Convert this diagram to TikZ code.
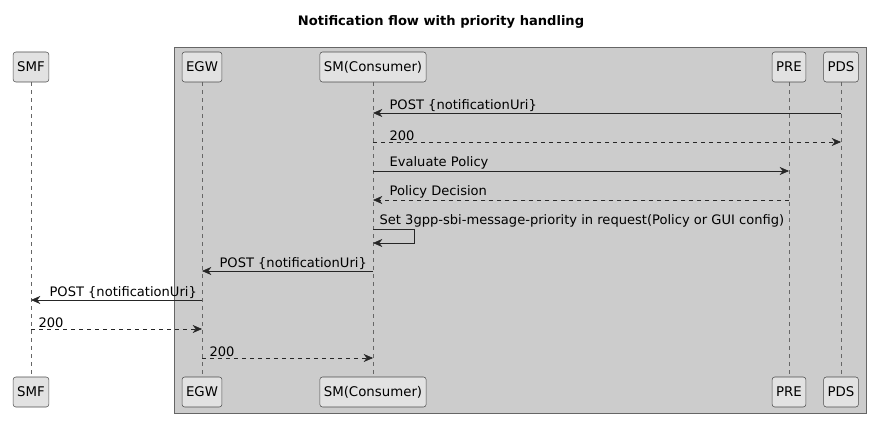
\documentclass[tikz,border=0pt]{standalone}
\usepackage{fontspec}
\setmainfont{DejaVu Sans}
\usetikzlibrary{arrows.meta}
\definecolor{grpbg}{HTML}{CCCCCC}
\definecolor{partbg}{HTML}{E2E2E2}
\tikzset{
  part/.style={draw=black!70, fill=partbg, rounded corners=2pt, minimum height=22.5pt, inner xsep=3pt, font=\fontsize{10}{12}\selectfont},
  life/.style={dashed, black!60, thin},
  msg/.style={-{Stealth[length=7pt,width=6pt]}, black!85},
  reply/.style={msg, dashed},
  lbl/.style={anchor=south west, font=\fontsize{9.8}{12}\selectfont, inner sep=1pt}
}
\begin{document}
\begin{tikzpicture}[x=0.75pt, y=-0.75pt]
    \useasboundingbox (0,0) rectangle (882,428);
    \node (title) [font=\bfseries\fontsize{9.8}{12}\selectfont] at (441,22) {Notification flow with priority handling};

    \draw[black!60, fill=grpbg] (174,47) rectangle (866,413);

    % participants
    \foreach \nm/\txt/\x in {smf/SMF/31, egw/EGW/202, sm/SM(Consumer)/373, pre/PRE/789, pds/PDS/841} {
        \node (\nm top) [part] at (\x,67) {\txt};
        \node (\nm bot) [part] at (\x,392) {\txt};
        \draw[life] (\nm top) -- (\nm bot);
    }

    % anchor points on the lifelines
    \foreach \nm/\x in {smf/31, egw/202, sm/373, pre/789, pds/841} {
        \foreach \y in {113,142,171,200,229,243,271,300,329,358}
            \coordinate (\nm\y) at (\x,\y);
    }
    \coordinate (loopa) at (414,229);
    \coordinate (loopb) at (414,243);

    \draw[msg] (pds113) -- (sm113);
    \node[lbl] at (388,113) {POST \{notificationUri\}};
    \draw[reply] (sm142) -- (pds142);
    \node[lbl] at (388,142) {200};
    \draw[msg] (sm171) -- (pre171);
    \node[lbl] at (388,171) {Evaluate Policy};
    \draw[reply] (pre200) -- (sm200);
    \node[lbl] at (388,200) {Policy Decision};
    \draw[msg] (sm229) -- (loopa) -- (loopb) -- (sm243);
    \node[lbl] at (378,229) {Set 3gpp-sbi-message-priority in request(Policy or GUI config)};
    \draw[msg] (sm271) -- (egw271);
    \node[lbl] at (218,271) {POST \{notificationUri\}};
    \draw[msg] (egw300) -- (smf300);
    \node[lbl] at (48,300) {POST \{notificationUri\}};
    \draw[reply] (smf329) -- (egw329);
    \node[lbl] at (37,329) {200};
    \draw[reply] (egw358) -- (sm358);
    \node[lbl] at (208,358) {200};
\end{tikzpicture}
\end{document}
